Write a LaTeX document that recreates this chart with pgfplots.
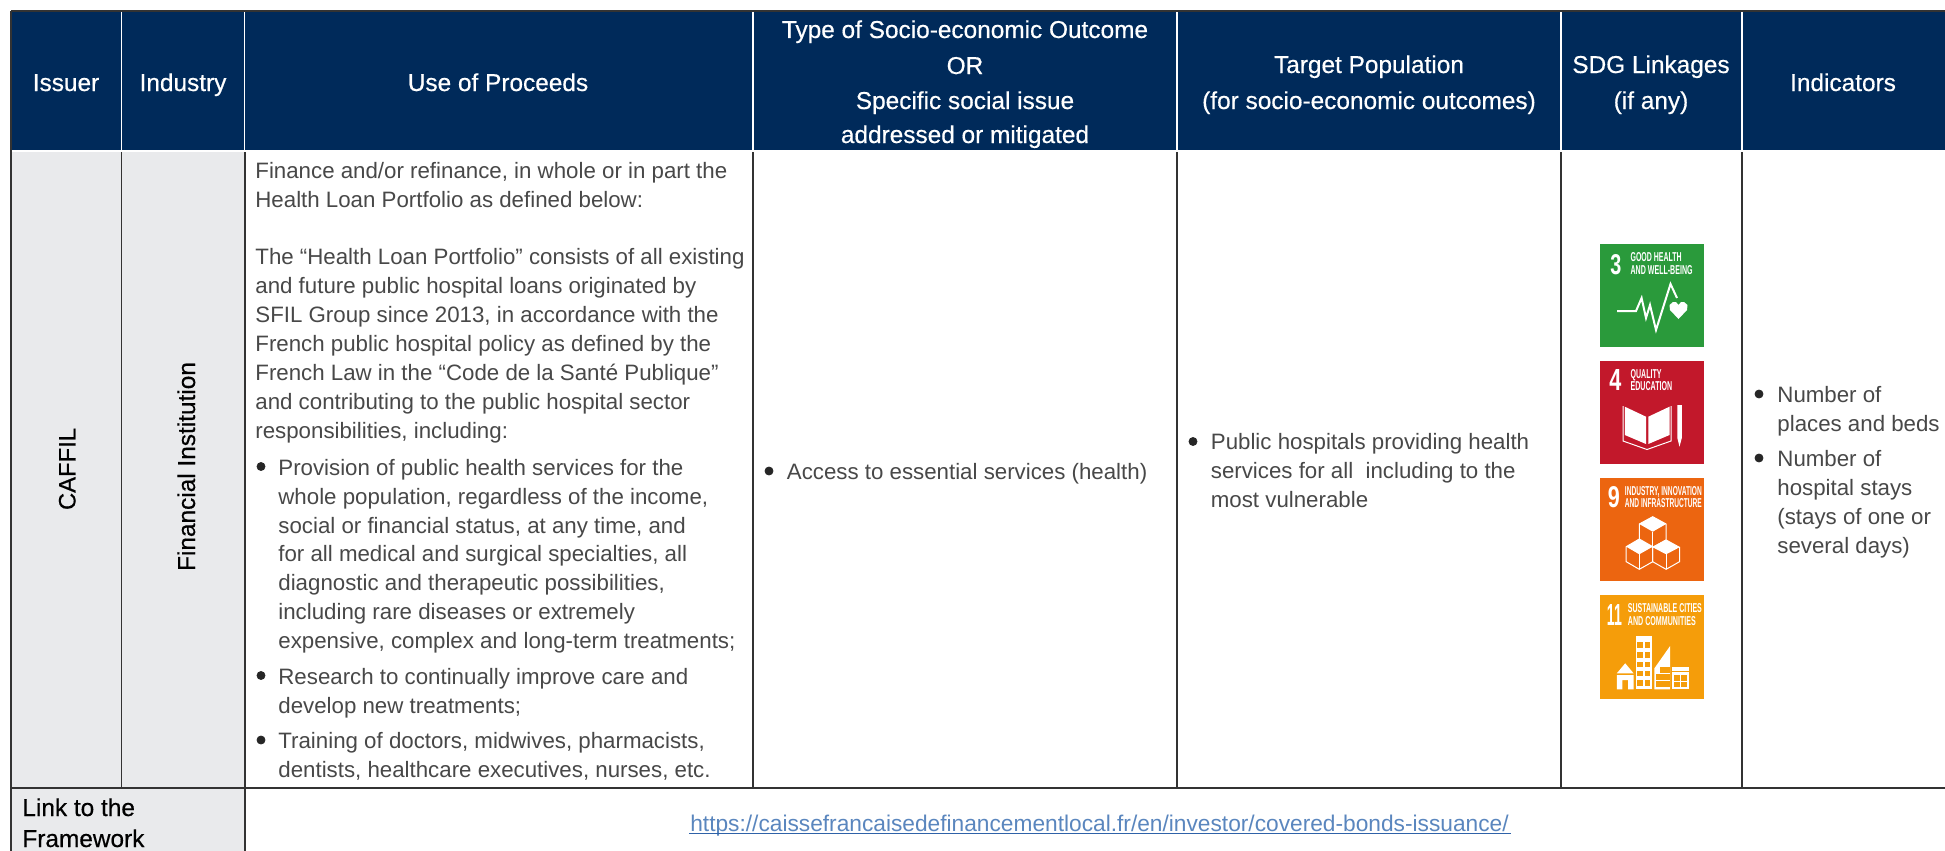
\documentclass[border=0pt]{standalone}
\usepackage{pgfplots}
\pgfplotsset{compat=1.18}
\usepackage{graphicx}
\usepackage{fontspec}
\setmainfont{Liberation Sans}
\newfontfamily\headf[FakeBold=0.5]{Liberation Sans}
\definecolor{navy}{HTML}{002A5A}
\definecolor{cellgrey}{HTML}{E9EAEC}
\definecolor{bodytxt}{HTML}{484848}
\definecolor{rulec}{HTML}{333333}
\definecolor{urlc}{HTML}{5A86BE}
\definecolor{urll}{HTML}{2F62A8}
\definecolor{sdgg}{HTML}{2A9A3B}
\definecolor{sdgr}{HTML}{C2182B}
\definecolor{sdgo}{HTML}{EC6510}
\definecolor{sdga}{HTML}{F59D0A}
\newcommand{\bodyfont}{\fontsize{11.14}{13}\selectfont}
\newcommand{\headfont}{\headf\fontsize{12.2}{14}\selectfont}
\newcommand{\tl}[3]{\node[anchor=base west,inner sep=0pt,text=bodytxt] at (axis cs:#1,#2) {\bodyfont #3};}
\newcommand{\hd}[3]{\node[anchor=base,inner sep=0pt,text=white] at (axis cs:#1,#2) {\headfont #3};}
\newcommand{\ic}[5]{\node[anchor=base west,inner sep=0pt,text=white] at (axis cs:#1,#2) {\resizebox{#3pt}{#4pt}{\bfseries #5}};}
\begin{document}
\begin{tikzpicture}
\begin{axis}[
  scale only axis, width=972.5pt, height=425.5pt,
  xmin=0, xmax=1945, ymin=0, ymax=851, y dir=reverse,
  hide axis, clip=true,
]
% page
\addplot[fill=white,draw=none] coordinates {(0,0)(1945,0)(1945,851)(0,851)} --cycle;
% header band
\addplot[fill=navy,draw=none] coordinates {(11,11)(1945,11)(1945,151)(11,151)} --cycle;
% grey cells
\addplot[fill=cellgrey,draw=none] coordinates {(11,151)(244.5,151)(244.5,788)(11,788)} --cycle;
\addplot[fill=cellgrey,draw=none] coordinates {(11,788)(244.5,788)(244.5,851)(11,851)} --cycle;
% rules
\addplot[rulec,line width=1pt] coordinates {(10.5,10.5)(1945,10.5)};
\addplot[rulec,line width=1pt] coordinates {(11,10.5)(11,851)};
\addplot[white,line width=0.8pt] coordinates {(121.5,12)(121.5,151)};
\addplot[white,line width=0.8pt] coordinates {(244.5,12)(244.5,151)};
\addplot[white,line width=0.8pt] coordinates {(753,12)(753,151)};
\addplot[white,line width=0.8pt] coordinates {(1177,12)(1177,151)};
\addplot[white,line width=0.8pt] coordinates {(1561,12)(1561,151)};
\addplot[white,line width=0.8pt] coordinates {(1742,12)(1742,151)};
\addplot[white,line width=0.8pt] coordinates {(12,151)(1945,151)};
\addplot[rulec,line width=0.8pt] coordinates {(121.5,152)(121.5,788)};
\addplot[rulec,line width=1pt] coordinates {(244.5,152)(244.5,851)};
\addplot[rulec,line width=0.8pt] coordinates {(753,152)(753,788)};
\addplot[rulec,line width=0.8pt] coordinates {(1177,152)(1177,788)};
\addplot[rulec,line width=0.8pt] coordinates {(1561,152)(1561,788)};
\addplot[rulec,line width=0.8pt] coordinates {(1742,152)(1742,788)};
\addplot[rulec,line width=1pt] coordinates {(11,788)(1945,788)};
% header text
\hd{66}{91}{Issuer}
\hd{183}{91}{Industry}
\hd{498}{91}{Use of Proceeds}
\hd{965}{38}{Type of Socio-economic Outcome}
\hd{965}{74}{OR}
\hd{965}{109}{Specific social issue}
\hd{965}{143}{addressed or mitigated}
\hd{1369}{73}{Target Population}
\hd{1369}{109}{(for socio-economic outcomes)}
\hd{1651}{73}{SDG Linkages}
\hd{1651}{109}{(if any)}
\hd{1843}{91}{Indicators}
% rotated
\node[rotate=90,anchor=base,inner sep=0pt] at (axis cs:75.5,469) {\headf\fontsize{11.9}{14}\selectfont CAFFIL};
\node[rotate=90,anchor=base,inner sep=0pt] at (axis cs:195,466.5) {\headfont Financial Institution};
% use of proceeds
\tl{255}{178}{Finance and/or refinance, in whole or in part the}
\tl{255}{207}{Health Loan Portfolio as defined below:}
\tl{255}{264}{The “Health Loan Portfolio” consists of all existing}
\tl{255}{293}{and future public hospital loans originated by}
\tl{255}{322}{SFIL Group since 2013, in accordance with the}
\tl{255}{351}{French public hospital policy as defined by the}
\tl{255}{380}{French Law in the “Code de la Santé Publique”}
\tl{255}{409}{and contributing to the public hospital sector}
\tl{255}{438}{responsibilities, including:}
\tl{278}{475}{Provision of public health services for the}
\tl{278}{504}{whole population, regardless of the income,}
\tl{278}{533}{social or financial status, at any time, and}
\tl{278}{561.5}{for all medical and surgical specialties, all}
\tl{278}{590}{diagnostic and therapeutic possibilities,}
\tl{278}{619}{including rare diseases or extremely}
\tl{278}{648}{expensive, complex and long-term treatments;}
\tl{278}{684}{Research to continually improve care and}
\tl{278}{713}{develop new treatments;}
\tl{278}{748}{Training of doctors, midwives, pharmacists,}
\tl{278}{777}{dentists, healthcare executives, nurses, etc.}
% outcome
\tl{786.5}{479.5}{Access to essential services (health)}
% population
\tl{1210.5}{449.5}{Public hospitals providing health}
\tl{1210.5}{478.5}{services for all\ \ including to the}
\tl{1210.5}{507.5}{most vulnerable}
% indicators
\tl{1777}{402}{Number of}
\tl{1777}{431}{places and beds}
\tl{1777}{466}{Number of}
\tl{1777}{495}{hospital stays}
\tl{1777}{524}{(stays of one or}
\tl{1777}{553}{several days)}
% bullets
\addplot[only marks,mark=*,mark size=2pt,color=black!85] coordinates {
 (261,466.5)(261,675.5)(261,740)(769,471)(1193,441.5)(1759,394)(1759,458)};
% link row
\node[anchor=base west,inner sep=0pt] at (axis cs:22,816) {\headfont Link to the};
\node[anchor=base west,inner sep=0pt] at (axis cs:22,847) {\headfont Framework};
\node[anchor=base,inner sep=0pt,text=urlc] at (axis cs:1099.5,831) {\fontsize{11.36}{13}\selectfont https://caissefrancaisedefinancementlocal.fr/en/investor/covered-bonds-issuance/};
\addplot[urll,line width=0.5pt] coordinates {(689,833)(1511,833)};
% SDG 3
\addplot[fill=sdgg,draw=none] coordinates {(1600,244)(1704,244)(1704,347)(1600,347)} --cycle;
\ic{1610}{274}{5.5}{10}{3}
\ic{1630.2}{261.7}{25.5}{4.5}{GOOD HEALTH}
\ic{1630.2}{274}{31}{4.5}{AND WELL-BEING}
\addplot[white,line width=1pt] coordinates {(1617,311)(1636,311)(1641.6,298)(1646,318)(1650,305)(1656,330)(1670.5,284)(1677,298)};
\addplot[fill=white,draw=none] coordinates {(1678.5,319)(1670,310)(1669.5,305)(1673,302)(1676,302)(1678.5,305)(1681,302)(1684,302)(1687.5,305)(1687,310)} --cycle;
% SDG 4
\addplot[fill=sdgr,draw=none] coordinates {(1600,361)(1704,361)(1704,464)(1600,464)} --cycle;
\ic{1609}{390.7}{6}{10.5}{4}
\ic{1630.2}{378.7}{15.5}{4.5}{QUALITY}
\ic{1630.2}{390.7}{20.8}{4.5}{EDUCATION}
\addplot[fill=white,draw=none] coordinates {(1624.8,406.7)(1646,416.7)(1646,444)(1624.8,435)} --cycle;
\addplot[fill=white,draw=none] coordinates {(1648.3,416.7)(1669.5,406.7)(1669.5,435)(1648.3,444)} --cycle;
\addplot[white,line width=0.5pt] coordinates {(1623,406)(1623,441)(1647,449.5)(1671,441)(1671,406)};
\addplot[fill=white,draw=none] coordinates {(1677.3,405)(1681.8,405)(1681.8,438)(1679.5,446.7)(1677.3,438)} --cycle;
% SDG 9
\addplot[fill=sdgo,draw=none] coordinates {(1600,478)(1704,478)(1704,581)(1600,581)} --cycle;
\ic{1607.5}{507.3}{6}{10.5}{9}
\ic{1624.5}{495.3}{38.5}{4.5}{INDUSTRY, INNOVATION}
\ic{1624.5}{507.3}{38.5}{4.5}{AND INFRASTRUCTURE}
\addplot[white,line width=0.5pt] coordinates {(1652.7,516.7)(1666.1,524)(1666.1,540)(1652.7,547.3)(1639.3,540)(1639.3,524)} --cycle;
\addplot[fill=white,draw=none] coordinates {(1652.7,516.7)(1666.1,524)(1652.7,531.7)(1639.3,524)} --cycle;
\addplot[white,line width=0.5pt] coordinates {(1652.7,531.7)(1652.7,547.3)};
\addplot[white,line width=0.5pt] coordinates {(1639.3,539)(1626.2,546.7)(1626.2,561.7)(1639.3,569.3)(1652.7,561.7)(1652.7,546.7)} --cycle;
\addplot[fill=white,draw=none] coordinates {(1639.3,539)(1652.7,546.7)(1639.3,554.3)(1626.2,546.7)} --cycle;
\addplot[white,line width=0.5pt] coordinates {(1639.3,554.3)(1639.3,569.3)};
\addplot[white,line width=0.5pt] coordinates {(1666.1,540)(1679.5,547.3)(1679.5,561.7)(1666.1,569.3)(1652.7,561.7)(1652.7,547.3)} --cycle;
\addplot[fill=white,draw=none] coordinates {(1666.1,540)(1679.5,547.3)(1666.1,554.3)(1652.7,547.3)} --cycle;
\addplot[white,line width=0.5pt] coordinates {(1666.1,554.3)(1666.1,569.3)};
% SDG 11
\addplot[fill=sdga,draw=none] coordinates {(1600,595)(1704,595)(1704,699)(1600,699)} --cycle;
\ic{1606.5}{625}{7.5}{10.5}{11}
\ic{1627.5}{612.7}{37}{4.5}{SUSTAINABLE CITIES}
\ic{1627.5}{625}{34}{4.5}{AND COMMUNITIES}
\addplot[fill=white,draw=none] coordinates {(1616.8,673.3)(1625.2,663.3)(1633.6,673.3)} --cycle;
\addplot[fill=white,draw=none] coordinates {(1616.8,675)(1633.6,675)(1633.6,689.3)(1628,689.3)(1628,680)(1622.4,680)(1622.4,689.3)(1616.8,689.3)} --cycle;
\addplot[fill=white,draw=none] coordinates {(1635.9,636)(1652,636)(1652,689.3)(1635.9,689.3)} --cycle;
\addplot[fill=white,draw=none] coordinates {(1654.4,689.3)(1654.4,668.3)(1670.1,646)(1670.1,689.3)} --cycle;
\addplot[fill=white,draw=none] coordinates {(1672.1,667.3)(1688.6,667.3)(1688.6,689.3)(1672.1,689.3)} --cycle;
\addplot[only marks,mark=square*,mark size=1.1pt,color=sdga] coordinates {
 (1640,645)(1647.5,645)(1640,655)(1647.5,655)(1640,664.5)(1647.5,664.5)(1640,673.5)(1647.5,673.5)(1640,683)(1647.5,683)
 (1663,670)(1667,670)(1659,677)(1663,677)(1667,677)(1659,684)(1663,684)(1667,684)
 (1677,678)(1684,678)(1677,684.5)(1684,684.5)};
\addplot[sdga,line width=0.5pt] coordinates {(1672.1,671.5)(1688.6,671.5)};
\end{axis}
\end{tikzpicture}
\end{document}
